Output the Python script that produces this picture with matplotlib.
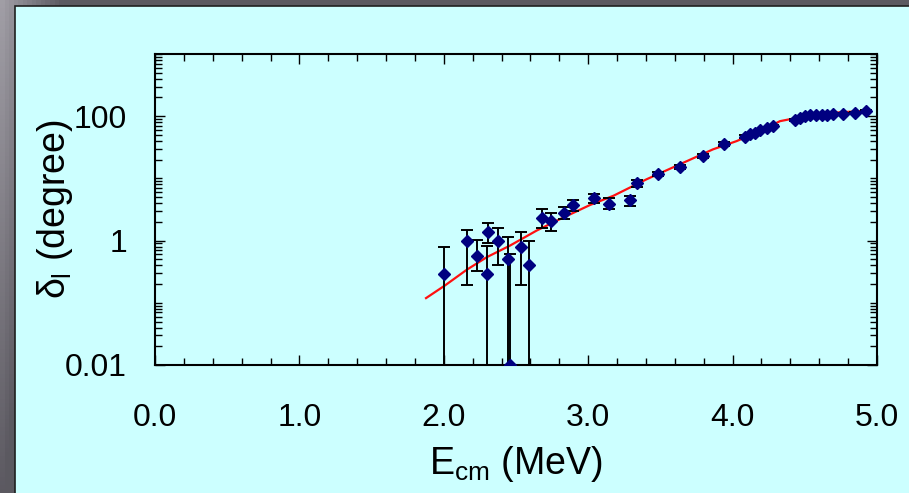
import numpy as np
from matplotlib import pyplot as plt
from matplotlib import ticker
from matplotlib.patches import Rectangle

plt.rcParams.update({"font.family": "Liberation Sans",
                     "mathtext.fontset": "custom",
                     "mathtext.rm": "Liberation Sans",
                     "mathtext.it": "Liberation Sans"})

# phase shift data (E_cm in MeV, delta in degree)
E_cm = [2.003, 2.158, 2.228, 2.297, 2.308, 2.378, 2.447, 2.458, 2.532, 2.590,
        2.682, 2.740, 2.835, 2.892, 3.042, 3.146, 3.290, 3.335, 3.486, 3.636,
        3.793, 3.940, 4.086, 4.120, 4.155, 4.190, 4.236, 4.282, 4.432, 4.467,
        4.501, 4.536, 4.578, 4.617, 4.652, 4.697, 4.767, 4.848, 4.922]
delta = [0.286, 1.00, 0.575, 0.286, 1.39, 1.00, 0.50, 0.010, 0.80, 0.40,
         2.27, 2.09, 2.77, 3.67, 4.90, 3.87, 4.48, 8.40, 11.7, 15.5,
         23.2, 35.3, 46.7, 51.0, 54.0, 59.7, 65.0, 69.2, 86.3, 93.9,
         100.0, 103.7, 106.4, 106.4, 106.4, 110.4, 110.4, 113.0, 123.0]
delta_lo = [0.010, 0.19, 0.32, 0.010, 0.90, 0.41, 0.010, 0.010, 0.19, 0.010,
            1.62, 1.41, 2.20, 2.94, 3.95, 3.17, 3.63, 7.30, 10.8, 14.4,
            21.6, 33.0, 44.0, 48.5, 51.5, 57.0, 62.0, 66.0, 83.0, 90.5,
            96.5, 100.0, 103.0, 103.0, 103.0, 107.0, 107.0, 109.5, 119.0]
delta_hi = [0.80, 1.50, 1.04, 0.83, 1.92, 1.60, 1.13, 0.61, 1.39, 1.00,
            3.20, 2.77, 3.50, 4.53, 5.58, 4.82, 5.25, 9.60, 12.7, 16.7,
            24.9, 37.8, 49.5, 53.6, 56.6, 62.5, 68.0, 72.5, 89.5, 97.0,
            103.5, 107.5, 110.0, 110.0, 110.0, 114.0, 114.0, 116.5, 127.0]

# fitted curve
E_fit = [1.877, 2.008, 2.159, 2.297, 2.458, 2.643, 2.782, 3.012, 3.174, 3.405,
         3.636, 3.864, 4.028, 4.190, 4.328, 4.444, 4.674, 4.952]
delta_fit = [0.119, 0.19, 0.34, 0.54, 0.83, 1.45, 2.09, 3.73, 5.25, 9.7,
             16.9, 29.3, 39.8, 57.5, 83.2, 94.0, 113.0, 123.0]

fig = plt.figure(figsize=(9.09, 4.93), dpi=100)

# grey frame with light cyan panel
bg = fig.add_axes([0, 0, 1, 1], zorder=-10)
xx, yy = np.meshgrid(np.linspace(0, 909, 200), np.linspace(0, 493, 120))
L = 0.63 - 0.27 * np.clip(xx / 60 + yy / 493, 0, 1)
bg.imshow(np.dstack([L, L - 0.01, L + 0.02]), extent=(0, 909, 493, 0), aspect='auto')
bg.add_patch(Rectangle((14.5, 6), 900, 500, facecolor='#ccffff', edgecolor='#202020', lw=1.2))
bg.set_xlim(0, 909)
bg.set_ylim(493, 0)
bg.axis('off')

ax = fig.add_axes([155 / 909, 1 - 365 / 493, 722 / 909, 311 / 493])
ax.set_facecolor('#ccffff')

ax.plot(E_fit, delta_fit, '-', color='#ff1010', lw=1.6, zorder=2)

d = np.array(delta)
yerr = [d - np.array(delta_lo), np.array(delta_hi) - d]
ax.errorbar(E_cm, delta, yerr=yerr, fmt='D', color='#000080', ms=6.6, ecolor='black',
            elinewidth=1.4, capsize=4.5, capthick=1.4, zorder=3)

ax.set_xlim(0, 5)
ax.set_yscale('log')
ax.set_ylim(0.01, 1000)

ax.xaxis.set_major_locator(ticker.MultipleLocator(1.0))
ax.xaxis.set_minor_locator(ticker.MultipleLocator(0.2))
ax.xaxis.set_major_formatter(ticker.FormatStrFormatter('%.1f'))
ax.yaxis.set_major_locator(ticker.FixedLocator([0.01, 1, 100]))
ax.yaxis.set_minor_locator(ticker.LogLocator(base=10, subs=np.arange(1, 10), numticks=20))
ax.yaxis.set_minor_formatter(ticker.NullFormatter())
ax.yaxis.set_major_formatter(ticker.FixedFormatter(['0.01', '1', '100']))

ax.tick_params(which='both', direction='in', top=True, right=True, width=1.0, color='black')
ax.tick_params(which='major', length=7.5, labelsize=23)
ax.tick_params(which='minor', length=5)
ax.tick_params(axis='x', which='major', pad=27)
ax.tick_params(axis='y', which='major', pad=20)
for s in ax.spines.values():
    s.set_linewidth(1.5)

ax.set_xlabel(r'E$_{\mathrm{cm}}$ (MeV)', fontsize=27)
ax.xaxis.label.set_va('center')
ax.xaxis.set_label_coords(0.5, (365 - 464) / 311)
ax.set_ylabel(r'$\delta_{\mathrm{l}}$ (degree)', fontsize=27)
ax.yaxis.label.set_va('center')
ax.yaxis.set_label_coords((55 - 155) / 722, 0.5)

plt.savefig('out.png', dpi=100)
